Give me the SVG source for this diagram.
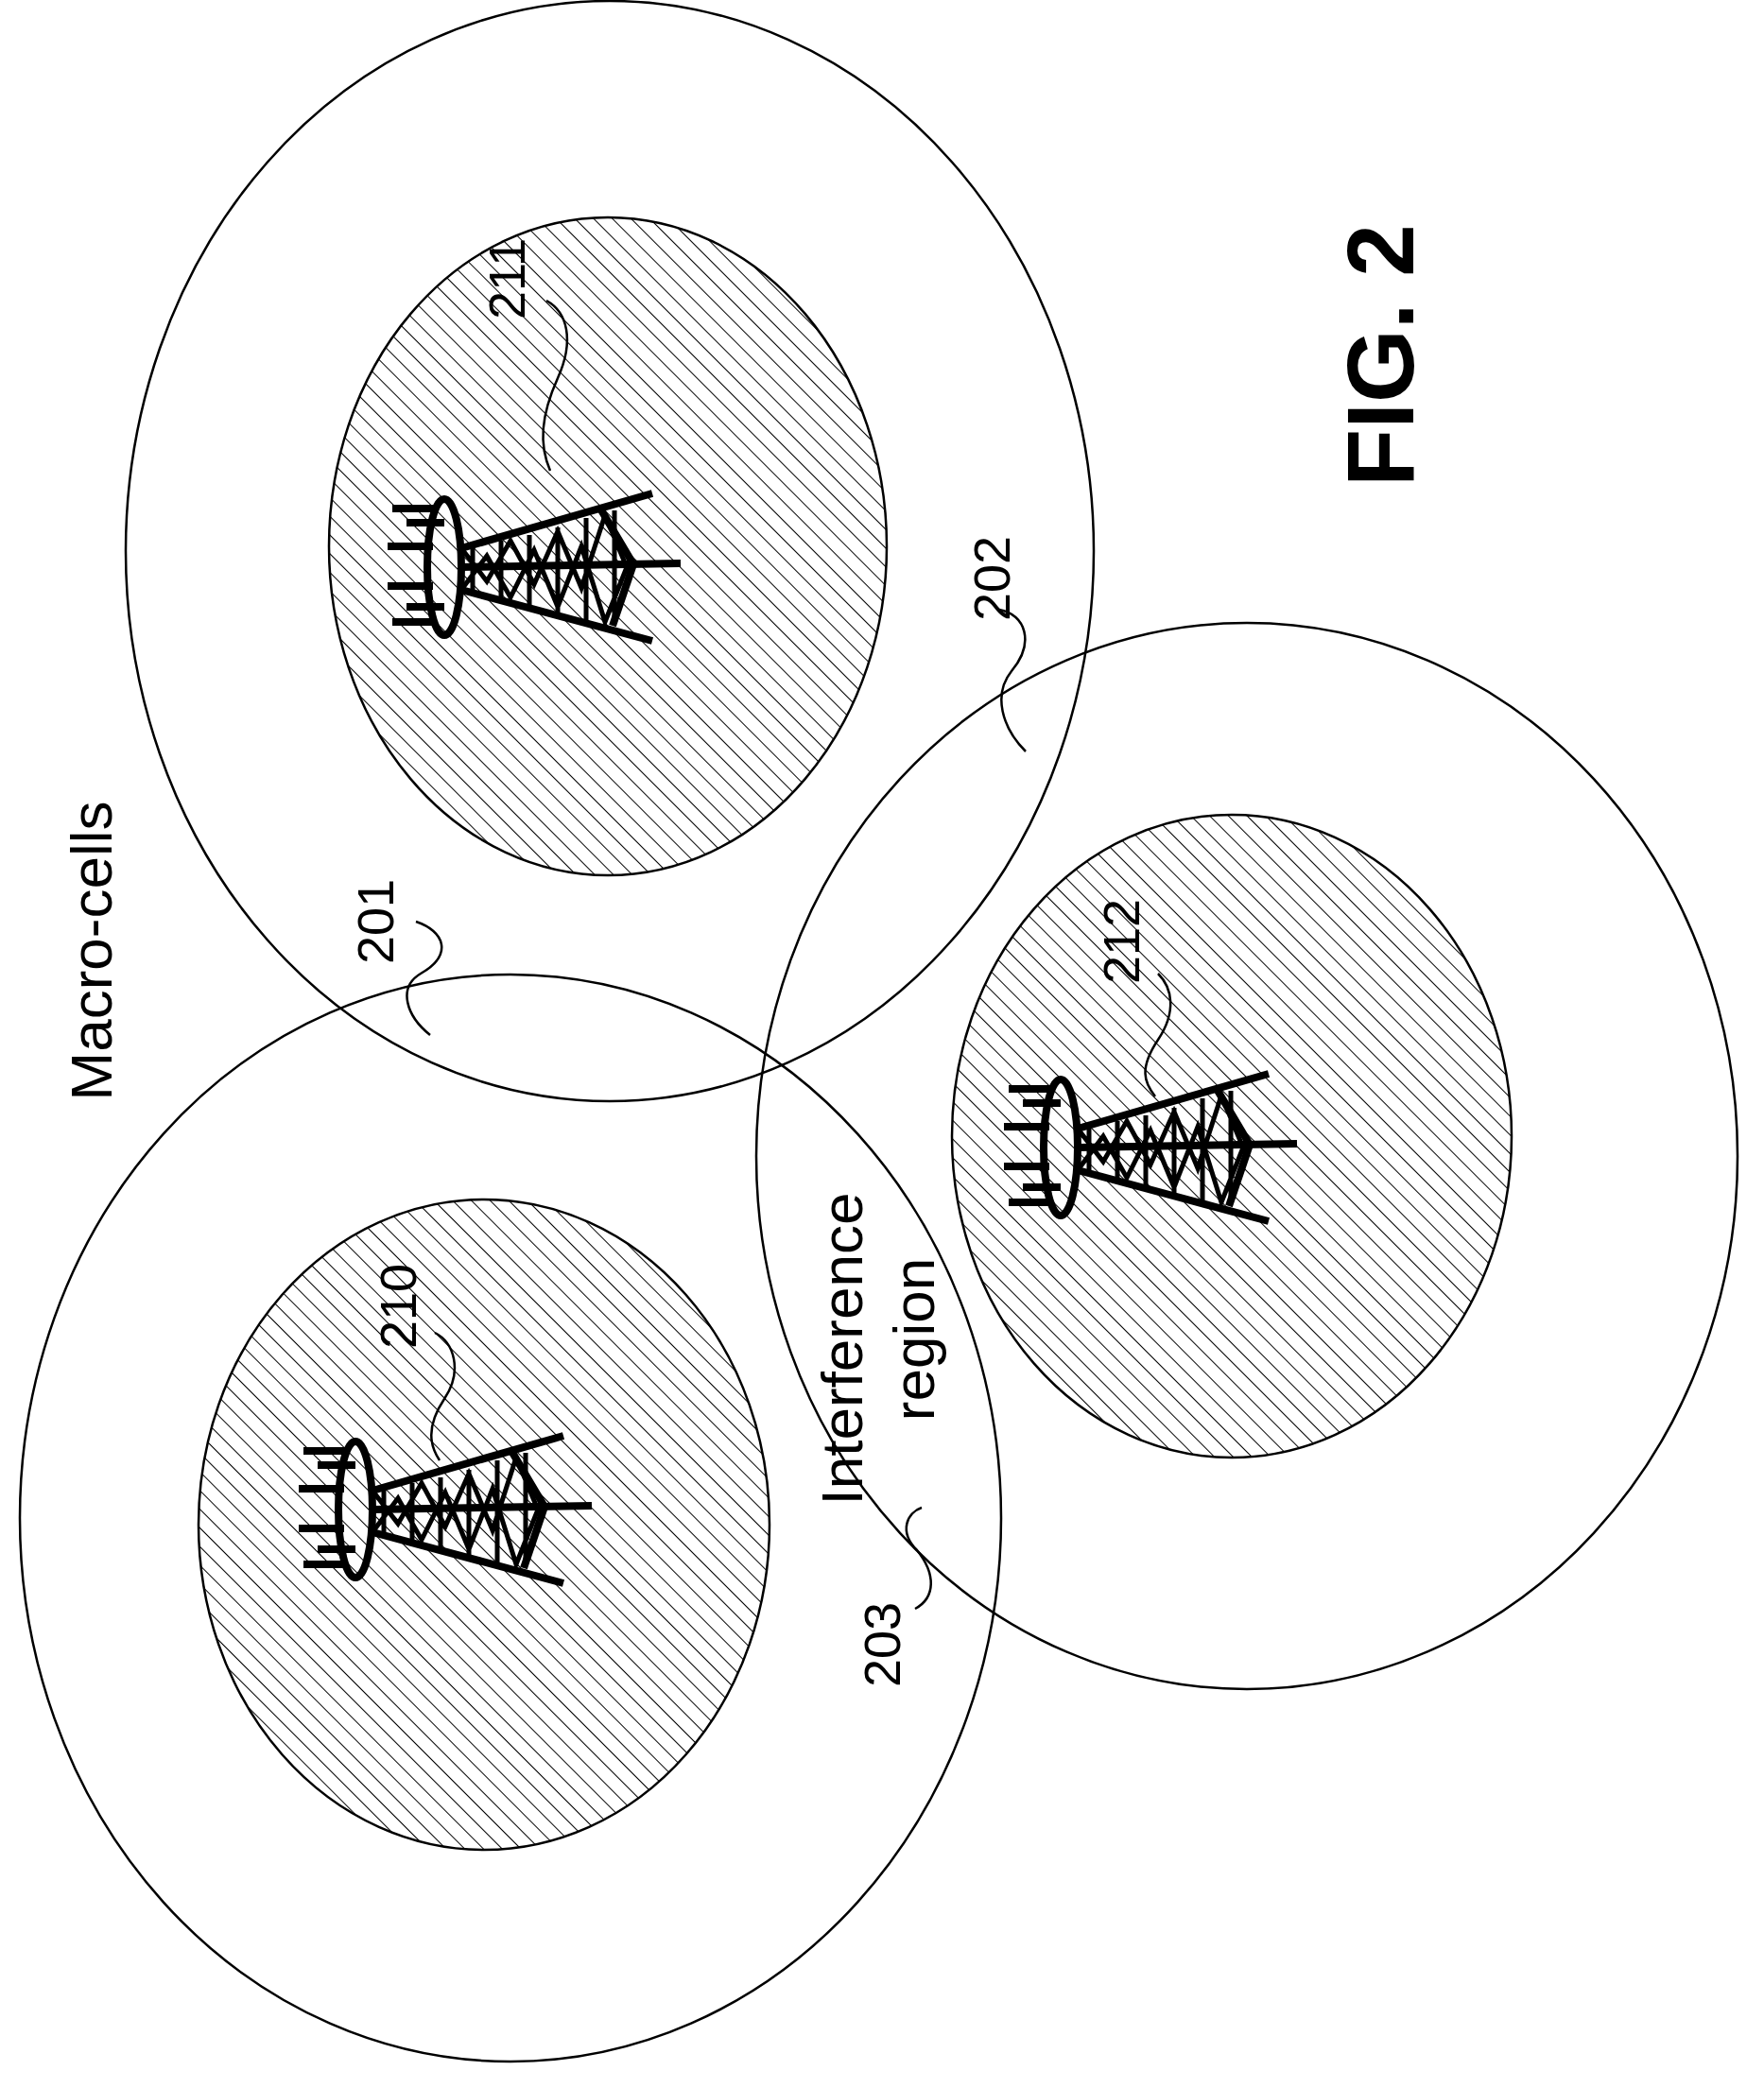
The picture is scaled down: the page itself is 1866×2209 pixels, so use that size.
<svg xmlns="http://www.w3.org/2000/svg" width="1866" height="2209" viewBox="0 0 1866 2209">
<style>
.cell{fill:none;stroke:#000;stroke-width:2.5}
.inner{fill:url(#hatch);stroke:#000;stroke-width:2.5}
.lead{fill:none;stroke:#000;stroke-width:2.5}
.lbl{font-family:"Liberation Sans",Arial,sans-serif;font-size:54px;fill:#000}
.txt{font-family:"Liberation Sans",Arial,sans-serif;font-size:62px;fill:#000}
.big{font-family:"Liberation Sans",Arial,sans-serif;font-size:100px;font-weight:bold;fill:#000}
.tw{fill:none;stroke:#000;stroke-width:8;stroke-linecap:butt}
.tb{fill:none;stroke:#000;stroke-width:5}
</style>
<defs>
<pattern id="hatch" width="14" height="14" patternUnits="userSpaceOnUse" patternTransform="rotate(-45)">
<rect width="14" height="14" fill="#fff"/>
<line x1="0" y1="0" x2="0" y2="14" stroke="#000" stroke-width="2"/>
</pattern>
<g id="tower">
<ellipse cx="0" cy="0" rx="18" ry="72" class="tw"/>
<path class="tw" d="M-55,-62H-8 M-40,-47H0 M-60,-22H-12 M-60,20H-12 M-40,42H0 M-55,58H-8"/>
<path class="tw" d="M18,-20L220,-78 M18,0L250,-4 M18,24L220,78"/>
<path class="tw" d="M165,-62L200,-3L178,62"/>
<path class="tb" d="M18,-20L45,15L70,-28L95,18L120,-38L145,22L170,-55L195,5 M18,24L45,-12L70,32L95,-18L120,42L145,-22L170,58L195,-5 M30,-22L30,27 M60,-28L60,34 M90,-34L90,42 M120,-42L120,50 M150,-52L150,58 M180,-60L180,60"/>
</g>
</defs>
<g id="cell-211">
<ellipse class="cell" cx="645" cy="583" rx="512" ry="582"/>
<ellipse class="inner" cx="643" cy="578" rx="295" ry="348"/>
<use href="#tower" x="470" y="600"/>
</g>
<g id="cell-210">
<ellipse class="cell" cx="540" cy="1606" rx="519" ry="575"/>
<ellipse class="inner" cx="512" cy="1613" rx="302" ry="344"/>
<use href="#tower" x="376" y="1597"/>
</g>
<g id="cell-212">
<ellipse class="cell" cx="1319" cy="1223" rx="519" ry="564"/>
<ellipse class="inner" cx="1303" cy="1202" rx="296" ry="340"/>
<use href="#tower" x="1122" y="1214"/>
</g>
<g id="connectors">
<path class="lead" d="M440,975 C470,985 480,1010 445,1030 C420,1045 430,1075 455,1095"/>
<path class="lead" d="M1057,645 C1085,650 1095,680 1070,710 C1050,735 1060,770 1085,795"/>
<path class="lead" d="M968,1702 C990,1690 990,1665 970,1640 C950,1620 960,1600 975,1595"/>
<path class="lead" d="M460,1410 C480,1420 490,1450 470,1480 C450,1510 455,1530 465,1545"/>
<path class="lead" d="M578,318 C600,330 608,360 590,400 C572,440 570,470 582,498"/>
<path class="lead" d="M1225,1030 C1240,1045 1245,1070 1225,1100 C1205,1130 1210,1145 1222,1160"/>
</g>
<g id="labels">
<text class="txt" transform="translate(118,1006) rotate(-90)" text-anchor="middle">Macro-cells</text>
<text class="lbl" transform="translate(416,975) rotate(-90)" text-anchor="middle">201</text>
<text class="lbl" transform="translate(1068,612) rotate(-90)" text-anchor="middle">202</text>
<text class="lbl" transform="translate(952,1740) rotate(-90)" text-anchor="middle">203</text>
<text class="lbl" transform="translate(440,1382) rotate(-90)" text-anchor="middle">210</text>
<text class="lbl" transform="translate(555,295) rotate(-90)" text-anchor="middle">211</text>
<text class="lbl" transform="translate(1205,996) rotate(-90)" text-anchor="middle">212</text>
<text class="txt" transform="translate(912,1427) rotate(-90)" text-anchor="middle">Interference</text>
<text class="txt" transform="translate(988,1417) rotate(-90)" text-anchor="middle">region</text>
<text class="big" transform="translate(1495,376) rotate(-90)" text-anchor="middle">FIG. 2</text>
</g>
</svg>
